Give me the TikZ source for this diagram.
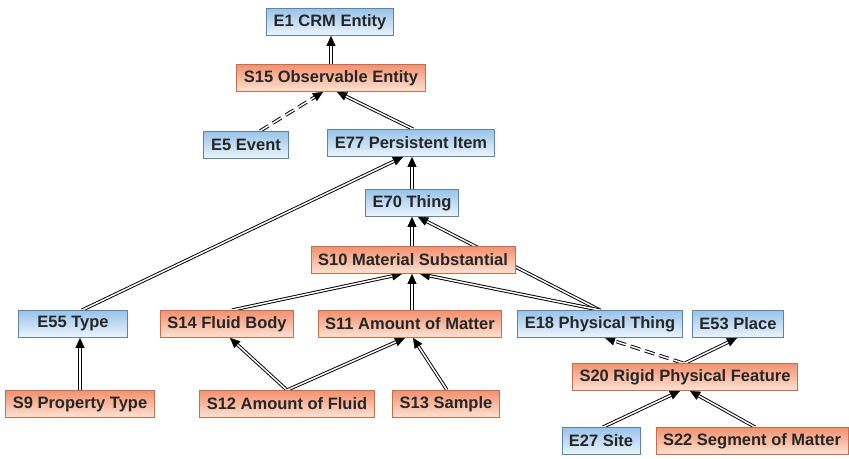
\documentclass[tikz,border=0pt]{standalone}
\usepackage{fontspec}
\setmainfont{Liberation Sans}
\usetikzlibrary{arrows.meta, backgrounds}
\definecolor{crmtop}{RGB}{152,195,234}
\definecolor{crmbot}{RGB}{236,245,252}
\definecolor{crmedge}{RGB}{96,130,165}
\definecolor{exttop}{RGB}{243,146,112}
\definecolor{extbot}{RGB}{253,226,212}
\definecolor{extedge}{RGB}{196,110,75}
\begin{document}
\begin{tikzpicture}[x=1pt, y=-1pt,
                box/.style={draw, line width=0.8pt, minimum height=27pt, inner xsep=7pt, inner ysep=0pt, font=\fontsize{16.5}{18}\selectfont\bfseries, text=black!85},
                crmbox/.style={box, draw=crmedge, top color=crmtop, bottom color=crmbot},
                extbox/.style={box, draw=extedge, top color=exttop, bottom color=extbot},
                isa/.style={line width=3.4pt, -{Triangle[length=10pt, width=9pt, line width=0.3pt]},
                    postaction={draw=white, line width=1.5pt, arrows=-, shorten >=10pt}},
                isadash/.style={isa, dash pattern=on 10pt off 5pt}
            ]
                \useasboundingbox (0,0) rectangle (849,458);

                \node[crmbox] (e1) at (330,22) {E1 CRM Entity};
                \node[extbox] (s15) at (331,78) {S15 Observable Entity};
                \node[crmbox, minimum width=85pt] (e5) at (246,145) {E5 Event};
                \node[crmbox] (e77) at (411,143) {E77 Persistent Item};
                \node[crmbox] (e70) at (412,203) {E70 Thing};
                \node[extbox] (s10) at (413,260) {S10 Material Substantial};
                \node[crmbox, minimum width=109pt] (e55) at (73,324) {E55 Type};
                \node[extbox] (s14) at (227,324) {S14 Fluid Body};
                \node[extbox] (s11) at (410,324) {S11 Amount of Matter};
                \node[crmbox] (e18) at (600,324) {E18 Physical Thing};
                \node[crmbox] (e53) at (738,324) {E53 Place};
                \node[extbox] (s20) at (685,377) {S20 Rigid Physical Feature};
                \node[extbox] (s9) at (80,404) {S9 Property Type};
                \node[extbox] (s12) at (287,404) {S12 Amount of Fluid};
                \node[extbox] (s13) at (446,404) {S13 Sample};
                \node[crmbox] (e27) at (601,441) {E27 Site};
                \node[extbox] (s22) at (752,441) {S22 Segment of Matter};

                \begin{scope}[on background layer]
                \draw[isa] (s15.north) -- (s15.north |- e1.south);
                \draw[isadash] ([xshift=14pt]e5.north) -- ([xshift=-8pt]s15.south);
                \draw[isa] ([xshift=2pt]e77.north) -- ([xshift=6pt]s15.south);
                \draw[isa] ([xshift=9pt]e55.north) -- ([xshift=-8pt]e77.south);
                \draw[isa] (e70.north) -- (e70.north |- e77.south);
                \draw[isa] ([xshift=-1pt]s10.north) -- ([xshift=-1pt]s10.north |- e70.south);
                \draw[isa] (e18.north) -- ([xshift=6pt]e70.south);
                \draw[isa] (e18.north) -- ([xshift=7pt]s10.south);
                \draw[isa] ([xshift=5pt]s14.north) -- ([xshift=-11pt]s10.south);
                \draw[isa] ([xshift=2pt]s11.north) -- ([xshift=2pt]s11.north |- s10.south);
                \draw[isa] (s12.north) -- ([xshift=3pt]s14.south);
                \draw[isa] (s12.north) -- ([xshift=-5pt]s11.south);
                \draw[isa] ([xshift=1pt]s13.north) -- ([xshift=3pt]s11.south);
                \draw[isa] (s9.north) -- (s9.north |- e55.south);
                \draw[isa] (s20.north) -- ([xshift=-1pt]e53.south);
                \draw[isadash] ([xshift=-2pt]s20.north) -- ([xshift=5pt]e18.south);
                \draw[isa] ([xshift=2pt]e27.north) -- ([xshift=-5pt]s20.south);
                \draw[isa] ([xshift=3pt]s22.north) -- ([xshift=5pt]s20.south);
                \end{scope}
            \end{tikzpicture}
\end{document}
